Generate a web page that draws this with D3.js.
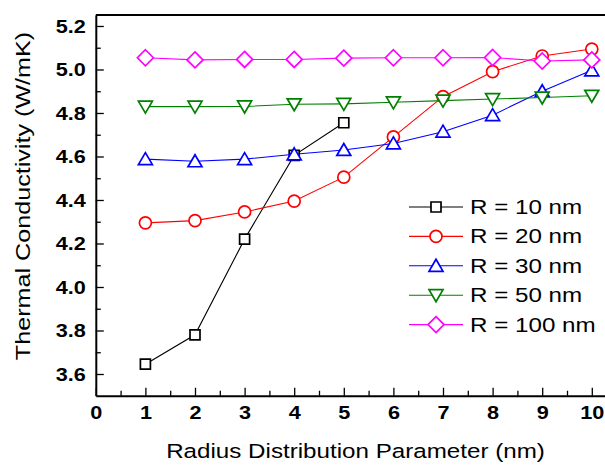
<!DOCTYPE html>
<html>
<head>
<meta charset="utf-8">
<script src="https://cdn.jsdelivr.net/npm/d3@7"></script>
<style>
  html, body { margin: 0; padding: 0; background: #fff; }
  svg { display: block; font-family: "Liberation Sans", Arial, sans-serif; }
</style>
</head>
<body>
<svg id="chart" width="605" height="466"></svg>
<script>
// values
const xValues = [1, 2, 3, 4, 5, 6, 7, 8, 9, 10];
const r10 = [3.645, 3.78, 4.22, 4.605, 4.755];
const r20 = [4.295, 4.305, 4.345, 4.395, 4.505, 4.69, 4.875, 4.99, 5.062, 5.094];
const r30 = [4.588, 4.578, 4.588, 4.61, 4.63, 4.66, 4.714, 4.79, 4.90, 4.996];
const r50 = [4.829, 4.829, 4.83, 4.84, 4.842, 4.849, 4.857, 4.864, 4.871, 4.879];
const r100 = [5.054, 5.044, 5.046, 5.046, 5.052, 5.054, 5.054, 5.055, 5.039, 5.044];
const seriesNames = ['R = 10 nm', 'R = 20 nm', 'R = 30 nm', 'R = 50 nm', 'R = 100 nm'];
const xTicks = [0, 1, 2, 3, 4, 5, 6, 7, 8, 9, 10];
const xMinor = [0.5, 1.5, 2.5, 3.5, 4.5, 5.5, 6.5, 7.5, 8.5, 9.5];
const yTicks = [3.6, 3.8, 4.0, 4.2, 4.4, 4.6, 4.8, 5.0, 5.2];
const yMinor = [3.7, 3.9, 4.1, 4.3, 4.5, 4.7, 4.9, 5.1];

const colors = ['#000000', '#ff0000', '#0000ff', '#008000', '#ff00ff'];

// hollow markers as custom symbol types
const square = { draw(c) { c.rect(-5, -5, 10, 10); } };
const circle = { draw(c) { c.moveTo(6, 0); c.arc(0, 0, 6, 0, 2 * Math.PI); } };
const triUp = { draw(c) { c.moveTo(0, -6.5); c.lineTo(7, 5.5); c.lineTo(-7, 5.5); c.closePath(); } };
const triDown = { draw(c) { c.moveTo(0, 6.5); c.lineTo(7, -5.5); c.lineTo(-7, -5.5); c.closePath(); } };
const diamond = { draw(c) { c.moveTo(0, -8); c.lineTo(8, 0); c.lineTo(0, 8); c.lineTo(-8, 0); c.closePath(); } };
const shapes = [square, circle, triUp, triDown, diamond];

const series = [r10, r20, r30, r50, r100].map((vals, i) => ({
  name: seriesNames[i],
  color: colors[i],
  shape: shapes[i],
  points: vals.map((v, j) => ({ x: xValues[j], y: v }))
}));

const svg = d3.select('#chart');

const x = d3.scaleLinear().domain([0, 10.5]).range([95.8, 616.6]);
const y = d3.scaleLinear().domain([3.5, 5.25]).range([395.75, 15.1]);

const plotLeft = x(0), plotBottom = y(3.5), plotTop = y(5.25), plotRight = x(10.5);

// frame (top and right edges, right one falls outside the picture)
svg.append('path')
  .attr('d', `M${plotLeft},${plotTop}H${plotRight}V${plotBottom}`)
  .attr('fill', 'none')
  .attr('stroke', '#000')
  .attr('stroke-width', 2);

// x axis
const xAxisG = svg.append('g')
  .attr('transform', `translate(0,${plotBottom})`)
  .call(d3.axisBottom(x).tickValues(xTicks).tickSizeInner(-8).tickSizeOuter(0)
    .tickPadding(10).tickFormat(d3.format('d')));
svg.append('g')
  .attr('transform', `translate(0,${plotBottom})`)
  .call(d3.axisBottom(x).tickValues(xMinor).tickSizeInner(-5).tickSizeOuter(0).tickFormat(''))
  .call(g => g.select('.domain').remove());

// y axis
const yAxisG = svg.append('g')
  .attr('transform', `translate(${plotLeft},0)`)
  .call(d3.axisLeft(y).tickValues(yTicks).tickSizeInner(-8).tickSizeOuter(0)
    .tickPadding(10).tickFormat(d3.format('.1f')));
svg.append('g')
  .attr('transform', `translate(${plotLeft},0)`)
  .call(d3.axisLeft(y).tickValues(yMinor).tickSizeInner(-5).tickSizeOuter(0).tickFormat(''))
  .call(g => g.select('.domain').remove());

svg.selectAll('.domain').attr('stroke-width', 2);
svg.selectAll('.tick line').attr('stroke-width', 1.3);

const tickStretch = 1.14;
xAxisG.selectAll('.tick text')
  .attr('font-size', 19).attr('font-weight', 'bold')
  .attr('font-family', '"Liberation Sans", Arial, sans-serif')
  .attr('fill', '#000')
  .attr('transform', `scale(${tickStretch},1)`);
yAxisG.selectAll('.tick text')
  .attr('font-size', 19).attr('font-weight', 'bold')
  .attr('font-family', '"Liberation Sans", Arial, sans-serif')
  .attr('fill', '#000')
  .attr('x', -10 / tickStretch)
  .attr('transform', `scale(${tickStretch},1)`);

// axis titles
svg.append('g')
  .attr('transform', `translate(355.5,458)`)
  .append('text')
  .attr('text-anchor', 'middle')
  .attr('font-size', 19.5)
  .attr('transform', 'scale(1.24,1)')
  .text('Radius Distribution Parameter (nm)');

svg.append('g')
  .attr('transform', `translate(29.5,196) rotate(-90)`)
  .append('text')
  .attr('text-anchor', 'middle')
  .attr('font-size', 19.5)
  .attr('transform', 'scale(1.29,1)')
  .text('Thermal Conductivity (W/mK)');

// series
const line = d3.line(d => x(d.x), d => y(d.y));
const symbol = d3.symbol();

series.forEach(s => {
  const g = svg.append('g');
  g.append('path')
    .attr('d', line(s.points))
    .attr('fill', 'none')
    .attr('stroke', s.color)
    .attr('stroke-width', 1.1);
  g.selectAll('path.mark')
    .data(s.points)
    .join('path')
    .attr('class', 'mark')
    .attr('transform', d => `translate(${x(d.x)},${y(d.y)})`)
    .attr('d', symbol.type(s.shape)())
    .attr('fill', '#fff')
    .attr('stroke', s.color)
    .attr('stroke-width', 1.7);
});

// legend
const legend = svg.append('g').attr('transform', 'translate(409,207)');
const item = legend.selectAll('g')
  .data(series)
  .join('g')
  .attr('transform', (d, i) => `translate(0,${i * 29.4})`);
item.append('line')
  .attr('x1', 0).attr('x2', 54)
  .attr('stroke', d => d.color)
  .attr('stroke-width', 1.1);
item.append('path')
  .attr('transform', 'translate(27,0)')
  .attr('d', d => d3.symbol().type(d.shape)())
  .attr('fill', '#fff')
  .attr('stroke', d => d.color)
  .attr('stroke-width', 1.7);
item.append('g')
  .attr('transform', 'translate(61,7)')
  .append('text')
  .attr('font-size', 19.5)
  .attr('transform', 'scale(1.24,1)')
  .text(d => d.name);
</script>
</body>
</html>
